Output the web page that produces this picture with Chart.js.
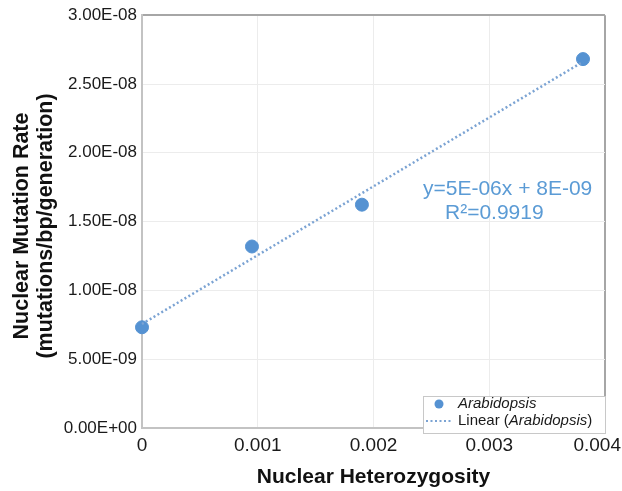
<!DOCTYPE html>
<html>
<head>
<meta charset="utf-8">
<script src="https://cdn.jsdelivr.net/npm/chart.js@4.4.1/dist/chart.umd.min.js"></script>
<style>
  body { margin: 0; background: #fff; }
  canvas { display: block; }
</style>
</head>
<body>
<canvas id="grafico" width="622" height="491"></canvas>
<script>
// datos
const heterozygosity = [0, 0.00095, 0.0019, 0.00381];
const mutationRate = [7.32e-9, 1.319e-8, 1.623e-8, 2.681e-8];
const seriesName = "Arabidopsis";
const xTickLabels = ["0", "0.001", "0.002", "0.003", "0.004"];
const yTickLabels = ["0.00E+00", "5.00E-09", "1.00E-08", "1.50E-08", "2.00E-08", "2.50E-08", "3.00E-08"];
const equationLines = ["y=5E-06x + 8E-09", "R\u00B2=0.9919"];
const xTitle = "Nuclear Heterozygosity";
const yTitle = ["Nuclear Mutation Rate", "(mutations/bp/generation)"];

const FONT = "'Liberation Sans', Arial, sans-serif";
const pointColor = "#5592d2";
const trendColor = "#7ba3d3";

// regresion lineal a partir de los puntos
function regresion(xs, ys) {
  const n = xs.length;
  const mx = xs.reduce((a, b) => a + b, 0) / n;
  const my = ys.reduce((a, b) => a + b, 0) / n;
  let sxy = 0, sxx = 0;
  for (let i = 0; i < n; i++) {
    sxy += (xs[i] - mx) * (ys[i] - my);
    sxx += (xs[i] - mx) * (xs[i] - mx);
  }
  const m = sxy / sxx;
  return { m, b: my - m * mx };
}

const fit = regresion(heterozygosity, mutationRate);
const xMin = Math.min(...heterozygosity);
const xMax = Math.max(...heterozygosity);
const trendData = [
  { x: xMin, y: fit.m * xMin + fit.b },
  { x: xMax, y: fit.m * xMax + fit.b },
];
const scatterData = heterozygosity.map((x, i) => ({ x, y: mutationRate[i] }));

// mover la ultima etiqueta del eje x para que quepa
const ajusteEtiquetas = {
  id: "ajusteEtiquetas",
  beforeDraw(chart) {
    const items = chart.scales.x.getLabelItems();
    const ctx = chart.ctx;
    ctx.save();
    ctx.font = "19px " + FONT;
    items.forEach((it) => {
      const w = ctx.measureText(it.label).width;
      const limit = chart.width - w / 2 - 1;
      if (it.options.translation[0] > limit) it.options.translation[0] = limit;
    });
    ctx.restore();
  },
};

// titulo del eje y, ecuacion y leyenda
const extras = {
  id: "extras",
  afterDraw(chart) {
    const ctx = chart.ctx;
    ctx.save();

    ctx.fillStyle = "#111";
    ctx.font = "bold 21.5px " + FONT;
    ctx.textAlign = "center";
    ctx.textBaseline = "middle";
    yTitle.forEach((t, i) => {
      ctx.save();
      ctx.translate(22 + i * 24, 226);
      ctx.rotate(-Math.PI / 2);
      ctx.fillText(t, 0, 0);
      ctx.restore();
    });

    ctx.fillStyle = "#5b9bd5";
    ctx.font = "21px " + FONT;
    ctx.textAlign = "left";
    ctx.fillText(equationLines[0], 423, 189);
    ctx.fillText(equationLines[1], 445, 213);

    // caja de leyenda
    const bx = 423, by = 396, bw = 182, bh = 37;
    ctx.fillStyle = "#ffffff";
    ctx.fillRect(bx, by, bw, bh);
    ctx.strokeStyle = "#c8c8c8";
    ctx.lineWidth = 1;
    ctx.strokeRect(bx + 0.5, by + 0.5, bw, bh);

    ctx.fillStyle = pointColor;
    ctx.beginPath();
    ctx.arc(439, 404, 4.5, 0, Math.PI * 2);
    ctx.fill();

    ctx.strokeStyle = trendColor;
    ctx.lineWidth = 2;
    ctx.setLineDash([2, 2.5]);
    ctx.beginPath();
    ctx.moveTo(426, 421);
    ctx.lineTo(452, 421);
    ctx.stroke();
    ctx.setLineDash([]);

    ctx.fillStyle = "#1a1a1a";
    ctx.font = "italic 15px " + FONT;
    ctx.fillText(seriesName, 458, 404);
    let x = 458;
    ctx.font = "15px " + FONT;
    ctx.fillText("Linear (", x, 421);
    x += ctx.measureText("Linear (").width;
    ctx.font = "italic 15px " + FONT;
    ctx.fillText(seriesName, x, 421);
    x += ctx.measureText(seriesName).width;
    ctx.font = "15px " + FONT;
    ctx.fillText(")", x, 421);
    ctx.restore();
  },
};

Chart.defaults.font.family = FONT;
Chart.defaults.color = "#1a1a1a";

const ctx = document.getElementById("grafico").getContext("2d");
const chart = new Chart(ctx, {
  type: "scatter",
  data: {
    datasets: [
      {
        label: "Linear (" + seriesName + ")",
        type: "line",
        data: trendData,
        borderColor: trendColor,
        borderWidth: 2.5,
        borderDash: [2, 2.5],
        pointRadius: 0,
        fill: false,
        clip: false,
      },
      {
        label: seriesName,
        data: scatterData,
        backgroundColor: pointColor,
        borderColor: pointColor,
        pointRadius: 6.5,
        pointHoverRadius: 6.5,
        clip: false,
      },
    ],
  },
  options: {
    responsive: false,
    animation: false,
    layout: { padding: { top: 14, right: 17, left: 0, bottom: 0 } },
    plugins: {
      legend: { display: false },
      tooltip: { enabled: false },
    },
    scales: {
      x: {
        type: "linear",
        min: 0,
        max: 0.004,
        afterFit(scale) {
          scale.height = 63;
          scale.paddingRight = 0;
          scale.paddingLeft = 0;
        },
        ticks: {
          stepSize: 0.001,
          padding: 6,
          font: { size: 19 },
          color: "#1a1a1a",
          callback: (v, i) => xTickLabels[i],
        },
        grid: {
          drawTicks: false,
          color: (c) => (c.index === xTickLabels.length - 1 ? "#a6a6a6" : "#ececec"),
          lineWidth: (c) => (c.index === xTickLabels.length - 1 ? 2 : 1),
        },
        border: { color: "#c3c3c3", width: 2 },
        title: {
          display: true,
          text: xTitle,
          font: { size: 21, weight: "bold", lineHeight: 1.2 },
          padding: { top: 0, bottom: 1 },
          color: "#111",
        },
      },
      y: {
        min: 0,
        max: 3e-8,
        afterFit(scale) {
          scale.width = 142;
        },
        ticks: {
          stepSize: 5e-9,
          padding: 5,
          font: { size: 17 },
          color: "#1a1a1a",
          callback: (v, i) => yTickLabels[i],
        },
        grid: {
          drawTicks: false,
          color: (c) => (c.index === yTickLabels.length - 1 ? "#a6a6a6" : "#ececec"),
          lineWidth: (c) => (c.index === yTickLabels.length - 1 ? 2 : 1),
        },
        border: { color: "#c3c3c3", width: 2 },
      },
    },
  },
  plugins: [ajusteEtiquetas, extras],
});
</script>
</body>
</html>
